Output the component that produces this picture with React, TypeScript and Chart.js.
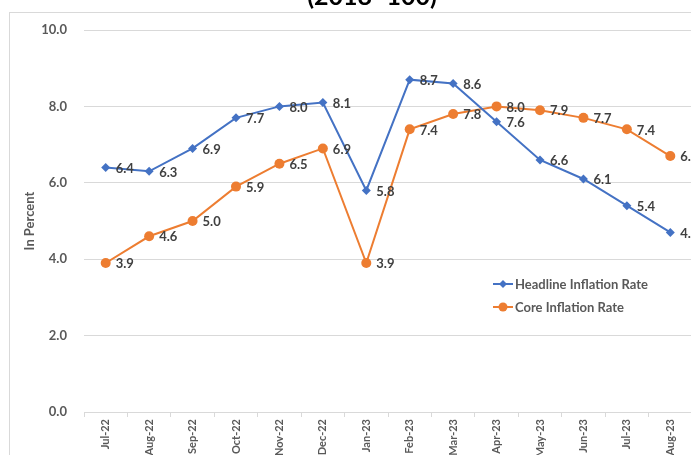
import React, { useEffect, useRef } from 'react';
import { Chart, registerables } from 'chart.js';

Chart.register(...registerables);

const months = ['Jul-22', 'Aug-22', 'Sep-22', 'Oct-22', 'Nov-22', 'Dec-22', 'Jan-23', 'Feb-23', 'Mar-23', 'Apr-23', 'May-23', 'Jun-23', 'Jul-23', 'Aug-23'];
const headline = [6.4, 6.3, 6.9, 7.7, 8.0, 8.1, 5.8, 8.7, 8.6, 7.6, 6.6, 6.1, 5.4, 4.7];
const core = [3.9, 4.6, 5.0, 5.9, 6.5, 6.9, 3.9, 7.4, 7.8, 8.0, 7.9, 7.7, 7.4, 6.7];
const seriesNames = ['Headline Inflation Rate', 'Core Inflation Rate'];
const titleText = '(2018=100)';
const yTitle = 'In Percent';

const BLUE = '#4472C4';
const ORANGE = '#ED7D31';
const FONT = 'Lato, "Open Sans", sans-serif';

const framePlugin = {
  id: 'frame',
  beforeDraw(chart: any) {
    const ctx = chart.ctx;
    ctx.save();
    ctx.fillStyle = '#ffffff';
    ctx.fillRect(0, 0, chart.width, chart.height);
    ctx.strokeStyle = '#d9d9d9';
    ctx.lineWidth = 1;
    ctx.strokeRect(9.5, 12.5, 800, 600);
    ctx.fillStyle = '#000000';
    ctx.font = `bold 25px ${FONT}`;
    ctx.textAlign = 'center';
    ctx.textBaseline = 'alphabetic';
    ctx.fillText(titleText, 372, 5);
    ctx.restore();
  },
};

const labelPlugin = {
  id: 'pointLabels',
  afterDatasetsDraw(chart: any) {
    const ctx = chart.ctx;
    ctx.save();
    ctx.font = `bold 13px ${FONT}`;
    ctx.fillStyle = '#404040';
    ctx.textAlign = 'left';
    ctx.textBaseline = 'middle';
    chart.data.datasets.forEach((ds: any, i: number) => {
      const meta = chart.getDatasetMeta(i);
      meta.data.forEach((el: any, j: number) => {
        ctx.fillText(Number(ds.data[j]).toFixed(1), el.x + 10, el.y + 1);
      });
    });
    ctx.restore();
  },
};

const legendPlugin = {
  id: 'customLegend',
  afterDraw(chart: any) {
    const ctx = chart.ctx;
    ctx.save();
    const items = [
      { name: seriesNames[0], color: BLUE, style: 'diamond', y: 284 },
      { name: seriesNames[1], color: ORANGE, style: 'circle', y: 307 },
    ];
    items.forEach((it) => {
      ctx.strokeStyle = it.color;
      ctx.fillStyle = it.color;
      ctx.lineWidth = 2;
      ctx.beginPath();
      ctx.moveTo(493, it.y);
      ctx.lineTo(513, it.y);
      ctx.stroke();
      ctx.beginPath();
      if (it.style === 'diamond') {
        ctx.moveTo(503, it.y - 4);
        ctx.lineTo(507, it.y);
        ctx.lineTo(503, it.y + 4);
        ctx.lineTo(499, it.y);
        ctx.closePath();
      } else {
        ctx.arc(503, it.y, 4.5, 0, Math.PI * 2);
      }
      ctx.fill();
      ctx.fillStyle = '#595959';
      ctx.font = `bold 13px ${FONT}`;
      ctx.textAlign = 'left';
      ctx.textBaseline = 'middle';
      ctx.fillText(it.name, 515, it.y + 1);
    });
    ctx.restore();
  },
};

export default function App() {
  const ref = useRef<HTMLCanvasElement | null>(null);

  useEffect(() => {
    if (!ref.current) return;
    const chart = new Chart(ref.current, {
      type: 'line',
      data: {
        labels: months,
        datasets: [
          {
            label: seriesNames[0],
            data: headline,
            borderColor: BLUE,
            backgroundColor: BLUE,
            borderWidth: 2,
            pointStyle: 'rectRot',
            pointRadius: 4.5,
            pointBorderWidth: 0,
            tension: 0,
          },
          {
            label: seriesNames[1],
            data: core,
            borderColor: ORANGE,
            backgroundColor: ORANGE,
            borderWidth: 2,
            pointStyle: 'circle',
            pointRadius: 5,
            pointBorderWidth: 0,
            tension: 0,
          },
        ],
      },
      options: {
        responsive: false,
        animation: false,
        events: [],
        layout: { padding: { left: 22, top: 30, right: 0, bottom: 0 } },
        plugins: {
          legend: { display: false },
          tooltip: { enabled: false },
          title: { display: false },
        },
        scales: {
          x: {
            offset: true,
            grid: {
              display: true,
              drawOnChartArea: false,
              drawTicks: true,
              tickLength: 5,
              color: '#d9d9d9',
              offset: true,
            },
            border: { display: true, color: '#d9d9d9' },
            ticks: {
              minRotation: 90,
              maxRotation: 90,
              autoSkip: false,
              padding: 2,
              color: '#595959',
              font: { family: FONT, size: 11, weight: 'bold' },
            },
            afterFit: (s: any) => {
              s.height = 43;
            },
          },
          y: {
            min: 0,
            max: 10,
            ticks: {
              stepSize: 2,
              padding: 17,
              color: '#595959',
              font: { family: FONT, size: 13, weight: 'bold' },
              callback: (v: any) => Number(v).toFixed(1),
            },
            grid: { color: '#d9d9d9', drawTicks: false },
            border: { display: false },
            title: {
              display: true,
              text: yTitle,
              color: '#595959',
              font: { family: FONT, size: 13, weight: 'bold' },
              padding: 0,
            },
            afterFit: (s: any) => {
              s.width = 62;
            },
          },
        },
      },
      plugins: [framePlugin, labelPlugin, legendPlugin],
    });
    return () => chart.destroy();
  }, []);

  return (
    <div style={{ position: 'fixed', left: 0, top: 0, width: 691, height: 455, overflow: 'hidden' }}>
      <canvas ref={ref} width={697} height={455} style={{ display: 'block' }} />
    </div>
  );
}
